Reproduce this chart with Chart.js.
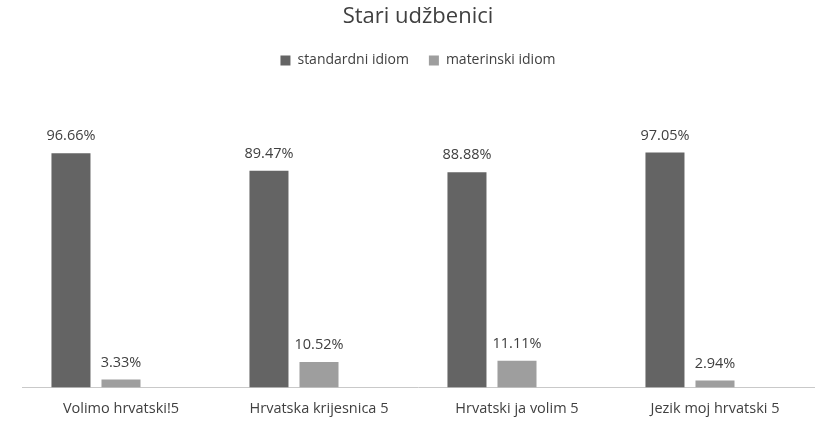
<!DOCTYPE html>
<html>
<head>
<meta charset="utf-8">
<script src="https://cdn.jsdelivr.net/npm/chart.js@4.4.1/dist/chart.umd.min.js"></script>
<style>
  html, body { margin: 0; padding: 0; background: #fff; }
  #wrap { width: 819px; height: 423px; }
</style>
</head>
<body>
<div id="wrap"><canvas id="chart" width="819" height="423"></canvas></div>
<script>
const categories = ['Volimo hrvatski!5', 'Hrvatska krijesnica 5', 'Hrvatski ja volim 5', 'Jezik moj hrvatski 5'];
const standardni = [96.66, 89.47, 88.88, 97.05];
const materinski = [3.33, 10.52, 11.11, 2.94];
const emptySlot = [null, null, null, null]; // empty third series, keeps the Excel-like offset

const textColor = '#404040';
const fontFamily = '"Open Sans", "Noto Sans", sans-serif';

// value labels above each bar
const valueLabels = {
    id: 'valueLabels',
    afterDatasetsDraw(chart) {
        const ctx = chart.ctx;
        ctx.save();
        ctx.font = '14.5px ' + fontFamily;
        ctx.fillStyle = textColor;
        ctx.textAlign = 'center';
        ctx.textBaseline = 'middle';
        chart.data.datasets.forEach(function(ds, i) {
            if (!ds.label) return;
            chart.getDatasetMeta(i).data.forEach(function(bar, j) {
                ctx.fillText(ds.data[j].toFixed(2) + '%', bar.x, bar.y - 17);
            });
        });
        ctx.restore();
    }
};

new Chart(document.getElementById('chart').getContext('2d'), {
    type: 'bar',
    data: {
        labels: categories,
        datasets: [
            { label: 'standardni idiom', data: standardni, backgroundColor: '#646464' },
            { label: 'materinski idiom', data: materinski, backgroundColor: '#9e9e9e' },
            { label: '', data: emptySlot, backgroundColor: 'transparent' }
        ]
    },
    options: {
        responsive: false,
        animation: false,
        categoryPercentage: 0.758,
        barPercentage: 0.78,
        layout: { padding: { left: 22, right: 5, top: 4, bottom: 0 } },
        plugins: {
            title: {
                display: true,
                text: 'Stari udžbenici',
                color: textColor,
                font: { family: fontFamily, size: 22, weight: 'normal' },
                padding: { top: 0, bottom: 3 }
            },
            legend: {
                position: 'top',
                labels: {
                    color: textColor,
                    font: { family: fontFamily, size: 14 },
                    boxWidth: 10,
                    boxHeight: 10,
                    padding: 20,
                    filter: function(item) { return item.text !== ''; }
                }
            },
            tooltip: { enabled: false }
        },
        scales: {
            x: {
                grid: { display: false },
                border: { display: true, color: '#c9c9c9', width: 1 },
                ticks: {
                    color: textColor,
                    font: { family: fontFamily, size: 14.5 },
                    padding: 5
                }
            },
            y: {
                display: false,
                min: 0,
                max: 128
            }
        }
    },
    plugins: [valueLabels]
});
</script>
</body>
</html>
